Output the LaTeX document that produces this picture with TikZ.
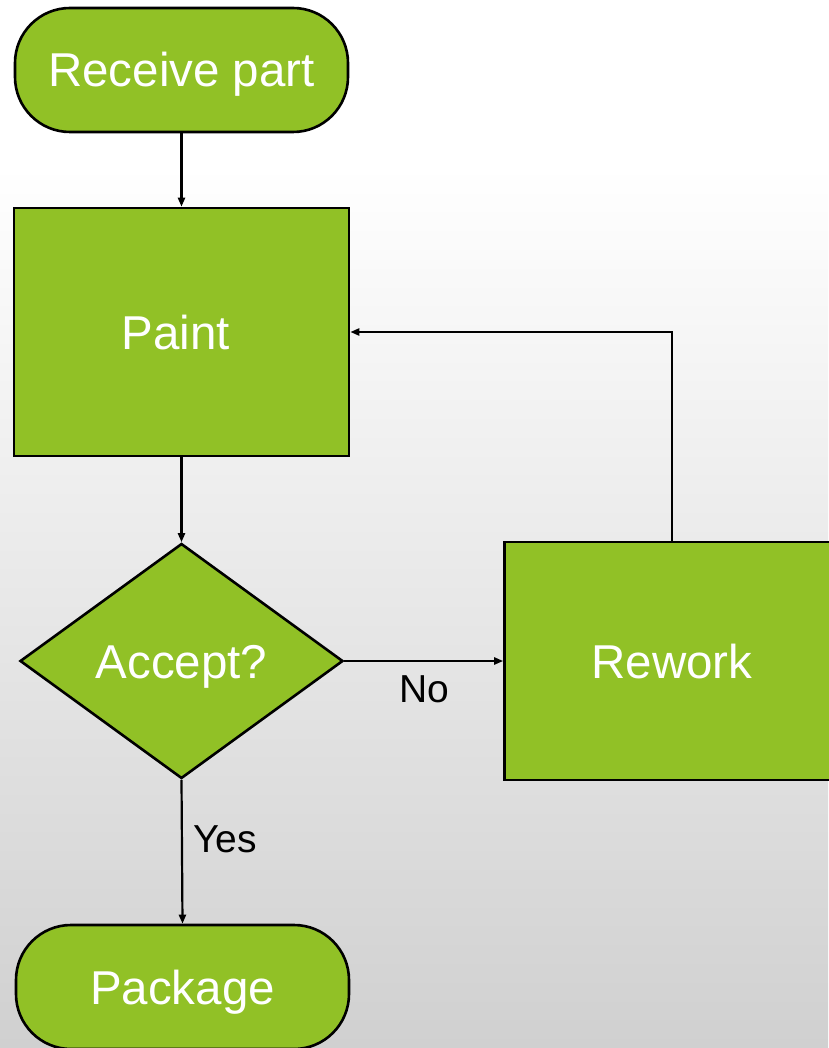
\documentclass[tikz,border=0pt]{standalone}
\usepackage{fontspec}
\setmainfont{Liberation Sans}
\usetikzlibrary{arrows.meta,shapes.geometric}
\definecolor{leaf}{RGB}{145,193,38}
\definecolor{bglow}{RGB}{208,208,208}
\begin{document}
\begin{tikzpicture}[x=1pt,y=-1pt,
  box/.style={draw=black,line width=2.6pt,fill=leaf,text=white,font=\fontsize{47.5}{50}\selectfont,inner sep=0pt,text height=34pt,text depth=0pt},
  term/.style={box,rounded corners=55pt},
  decis/.style={box,diamond,aspect=1.374},
  conn/.style={draw=black,line width=2.2pt,-{Triangle[length=9pt,width=7pt]}},
  lbl/.style={font=\fontsize{39}{42}\selectfont,text=black,inner sep=0pt,text height=28pt,text depth=0pt}]
\useasboundingbox (0,0) rectangle (828,1048);
\fill[white] (0,0) rectangle (828,166);
\shade[top color=white,bottom color=bglow] (0,165) rectangle (828,1048);
\node[term,minimum width=333pt,minimum height=124pt] (recv) at (181.5,70) {Receive part};
\node[box,minimum width=335pt,minimum height=248pt] (paint) at (181.5,332) {\kern-11pt Paint};
\node[decis,minimum width=323pt,minimum height=235pt] (acc) at (181.5,661) {Accept?};
\node[box,minimum width=335pt,minimum height=238pt] (rework) at (672,661) {Rework};
\node[term,minimum width=333pt,minimum height=124pt] (pack) at (182.5,987) {Package};
\coordinate (corner) at (rework.north |- paint.east);
\draw[conn] (recv) -- (paint);
\draw[conn] (paint) -- (acc);
\draw[conn] (acc.south) -- (pack.north);
\draw[conn] (acc.east) -- (rework.west |- acc.east);
\draw[conn] (rework.north) -- (corner) -- (paint.east);
\node[lbl] (no) at (424,688) {No};
\node[lbl] (yes) at (225,838) {Yes};
\end{tikzpicture}
\end{document}
